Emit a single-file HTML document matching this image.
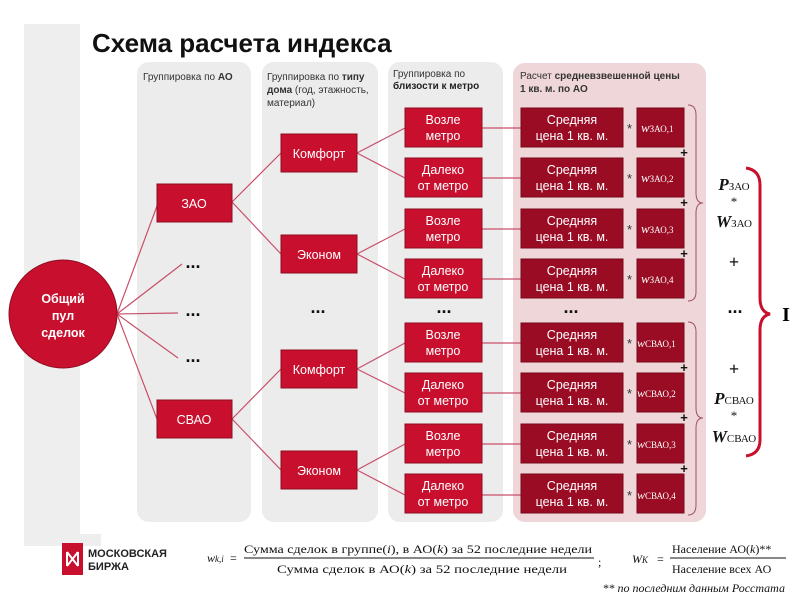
<!DOCTYPE html>
<html><head><meta charset="utf-8"><style>
body{margin:0;background:#fff;}
svg{display:block;font-family:"Liberation Sans","DejaVu Sans",sans-serif;}
.b{fill:#c8102e;stroke:#8e0b20;stroke-width:1}
.d{fill:#990c24;stroke:#7a0a1d;stroke-width:1}
.t{fill:#fff;font-size:12.5px;text-anchor:middle}
.w{fill:#fff;font-family:"Liberation Serif",serif;font-style:italic;font-size:13px}
.ln{stroke:#c8506a;stroke-width:1.2;fill:none}
.dots{font-size:18px;font-weight:bold;text-anchor:middle;fill:#111}
.s{font-size:13px;fill:#333}
.m{font-family:"Liberation Serif",serif;font-size:12px;fill:#111}
</style></head><body>
<svg width="800" height="600" viewBox="0 0 800 600">
<rect x="24" y="24" width="56" height="522" fill="#eeeeee"/>
<rect x="137" y="62" width="114" height="460" rx="12" fill="#ececec"/>
<rect x="262" y="62" width="116" height="460" rx="12" fill="#ececec"/>
<rect x="388" y="62" width="115" height="460" rx="12" fill="#ececec"/>
<rect x="513" y="63" width="193" height="459" rx="12" fill="#efd6d8"/>
<text x="92" y="52" font-size="26" font-weight="bold" fill="#111">Схема расчета индекса</text>
<text x="143" y="80" font-size="10" fill="#333">Группировка по <tspan font-weight="bold">АО</tspan></text>
<text x="267" y="80" font-size="10" fill="#333">Группировка по <tspan font-weight="bold">типу</tspan></text>
<text x="267" y="93" font-size="10" fill="#333"><tspan font-weight="bold">дома</tspan> (год, этажность,</text>
<text x="267" y="106" font-size="10" fill="#333">материал)</text>
<text x="393" y="77" font-size="10" fill="#333">Группировка по</text>
<text x="393" y="89" font-size="10" font-weight="bold" fill="#222">близости к метро</text>
<text x="520" y="79" font-size="10" fill="#333">Расчет <tspan font-weight="bold">средневзвешенной цены</tspan></text>
<text x="520" y="92" font-size="10" font-weight="bold" fill="#333">1 кв. м. по АО</text>
<g class="ln">
<path d="M117 314L157 206M117 314L182 264M117 314L178 313M117 314L178 358M117 314L157 419"/>
<path d="M232 202L281 153M232 202L281 254M232 419L281 369M232 419L281 470"/>
<path d="M357 153L405 128M357 153L405 178M357 254L405 229M357 254L405 279"/>
<path d="M357 369L405 343M357 369L405 393M357 470L405 444M357 470L405 495"/>
<path d="M482 128H521M482 178H521M482 229H521M482 279H521M482 343H521M482 393H521M482 444H521M482 495H521"/>
</g>
<circle cx="63" cy="314" r="54" fill="#c8102e" stroke="#8e0b20"/>
<text x="63" y="303" class="t" font-weight="bold" font-size="14">Общий</text>
<text x="63" y="320" class="t" font-weight="bold" font-size="14">пул</text>
<text x="63" y="337" class="t" font-weight="bold" font-size="14">сделок</text>
<rect class="b" x="157" y="184" width="75" height="38"/><text class="t" x="194" y="208">ЗАО</text>
<rect class="b" x="157" y="400" width="75" height="38"/><text class="t" x="194" y="424">СВАО</text>
<text class="dots" x="193" y="268">...</text><text class="dots" x="193" y="316">...</text><text class="dots" x="193" y="362">...</text>
<text class="dots" x="318" y="313">...</text><text class="dots" x="444" y="313">...</text><text class="dots" x="571" y="313">...</text><text class="dots" x="735" y="313">...</text>
<rect class="b" x="281" y="134" width="76" height="38"/><text class="t" x="319" y="158">Комфорт</text>
<rect class="b" x="281" y="235" width="76" height="38"/><text class="t" x="319" y="259">Эконом</text>
<rect class="b" x="281" y="350" width="76" height="38"/><text class="t" x="319" y="374">Комфорт</text>
<rect class="b" x="281" y="451" width="76" height="38"/><text class="t" x="319" y="475">Эконом</text>
<g id="g1">
<rect class="b" x="405" y="108" width="77" height="39"/><text class="t" x="443" y="124">Возле</text><text class="t" x="443" y="140">метро</text>
<rect class="b" x="405" y="158" width="77" height="39"/><text class="t" x="443" y="174">Далеко</text><text class="t" x="443" y="190">от метро</text>
<rect class="b" x="405" y="209" width="77" height="39"/><text class="t" x="443" y="225">Возле</text><text class="t" x="443" y="241">метро</text>
<rect class="b" x="405" y="259" width="77" height="39"/><text class="t" x="443" y="275">Далеко</text><text class="t" x="443" y="291">от метро</text>
<rect class="d" x="521" y="108" width="102" height="39"/><text class="t" x="572" y="124">Средняя</text><text class="t" x="572" y="140">цена 1 кв. м.</text>
<rect class="d" x="521" y="158" width="102" height="39"/><text class="t" x="572" y="174">Средняя</text><text class="t" x="572" y="190">цена 1 кв. м.</text>
<rect class="d" x="521" y="209" width="102" height="39"/><text class="t" x="572" y="225">Средняя</text><text class="t" x="572" y="241">цена 1 кв. м.</text>
<rect class="d" x="521" y="259" width="102" height="39"/><text class="t" x="572" y="275">Средняя</text><text class="t" x="572" y="291">цена 1 кв. м.</text>
<rect class="d" x="637" y="108" width="47" height="39"/>
<rect class="d" x="637" y="158" width="47" height="39"/>
<rect class="d" x="637" y="209" width="47" height="39"/>
<rect class="d" x="637" y="259" width="47" height="39"/>
</g>
<use href="#g1" y="215"/>
<g class="s"><text x="627" y="133">*</text><text x="627" y="183">*</text><text x="627" y="234">*</text><text x="627" y="284">*</text>
<text x="627" y="348">*</text><text x="627" y="398">*</text><text x="627" y="449">*</text><text x="627" y="500">*</text></g>
<g class="w">
<text x="641" y="132">w<tspan font-size="9" font-style="normal">ЗАО,1</tspan></text>
<text x="641" y="182">w<tspan font-size="9" font-style="normal">ЗАО,2</tspan></text>
<text x="641" y="233">w<tspan font-size="9" font-style="normal">ЗАО,3</tspan></text>
<text x="641" y="283">w<tspan font-size="9" font-style="normal">ЗАО,4</tspan></text>
<text x="637" y="347" font-size="12">w<tspan font-size="9" font-style="normal">СВАО,1</tspan></text>
<text x="637" y="397" font-size="12">w<tspan font-size="9" font-style="normal">СВАО,2</tspan></text>
<text x="637" y="448" font-size="12">w<tspan font-size="9" font-style="normal">СВАО,3</tspan></text>
<text x="637" y="499" font-size="12">w<tspan font-size="9" font-style="normal">СВАО,4</tspan></text>
</g>
<g font-size="13" font-weight="bold" fill="#111" text-anchor="middle">
<text x="684" y="157">+</text><text x="684" y="207">+</text><text x="684" y="258">+</text>
<text x="684" y="372">+</text><text x="684" y="422">+</text><text x="684" y="473">+</text>
</g>
<g stroke="#a0506a" stroke-width="1" fill="none">
<path d="M688 105 Q696 105 696 115 V193 Q696 203 703 203 Q696 203 696 213 V292 Q696 301 688 301"/>
<path d="M688 322 Q696 322 696 332 V408 Q696 418 703 418 Q696 418 696 428 V505 Q696 515 688 515"/>
</g>
<path d="M746 168 Q760 170 760 185 V298 Q760 312 770 314 Q760 316 760 330 V440 Q760 454 746 456" stroke="#c8102e" stroke-width="3" fill="none"/>
<text x="786" y="321" font-family="Liberation Serif,serif" font-weight="bold" font-size="20" text-anchor="middle">I</text>
<g font-family="Liberation Serif,serif" fill="#111" text-anchor="middle">
<text x="734" y="190" font-size="17" font-weight="bold" font-style="italic">P<tspan font-size="11" font-weight="normal" font-style="normal">ЗАО</tspan></text>
<text x="734" y="206" font-size="13">*</text>
<text x="734" y="227" font-size="17" font-weight="bold" font-style="italic">W<tspan font-size="11" font-weight="normal" font-style="normal">ЗАО</tspan></text>
<text x="734" y="268" font-size="18" font-weight="bold">+</text>
<text x="734" y="375" font-size="18" font-weight="bold">+</text>
<text x="734" y="404" font-size="17" font-weight="bold" font-style="italic">P<tspan font-size="11" font-weight="normal" font-style="normal">СВАО</tspan></text>
<text x="734" y="420" font-size="13">*</text>
<text x="734" y="442" font-size="17" font-weight="bold" font-style="italic">W<tspan font-size="11" font-weight="normal" font-style="normal">СВАО</tspan></text>
</g>
<rect x="41" y="534" width="60" height="12" fill="#eeeeee"/>
<rect x="62" y="543" width="21" height="32" fill="#c8102e"/>
<path d="M67 552 L78 566 M78 552 L67 566 M67 552 V566 M78 552 V566" stroke="#fff" stroke-width="2" fill="none"/>
<text x="88" y="557" font-size="11" font-weight="bold" fill="#222">МОСКОВСКАЯ</text>
<text x="88" y="570" font-size="11" font-weight="bold" fill="#222">БИРЖА</text>
<text x="207" y="562" class="m" font-style="italic" font-size="13">w<tspan font-size="9">k,i</tspan></text>
<text x="230" y="562" class="m" font-size="13">=</text>
<text x="244" y="553" class="m" font-size="13" textLength="348" lengthAdjust="spacingAndGlyphs">Сумма сделок в группе(<tspan font-style="italic">i</tspan>), в АО(<tspan font-style="italic">k</tspan>) за 52 последние недели</text>
<line x1="244" y1="558" x2="594" y2="558" stroke="#111"/>
<text x="277" y="573" class="m" font-size="13" textLength="290" lengthAdjust="spacingAndGlyphs">Сумма сделок в АО(<tspan font-style="italic">k</tspan>) за 52 последние недели</text>
<text x="598" y="566" class="m" font-size="13">;</text>
<text x="632" y="563" class="m" font-style="italic" font-size="13">W<tspan font-size="9">K</tspan></text>
<text x="657" y="563" class="m" font-size="13">=</text>
<text x="672" y="553" class="m" font-size="12">Население АО(<tspan font-style="italic">k</tspan>)**</text>
<line x1="670" y1="558" x2="786" y2="558" stroke="#111"/>
<text x="672" y="573" class="m" font-size="12">Население всех АО</text>
<text x="785" y="592" class="m" font-size="9" font-style="italic" text-anchor="end">** по последним данным Росстата</text>
</svg>
</body></html>
